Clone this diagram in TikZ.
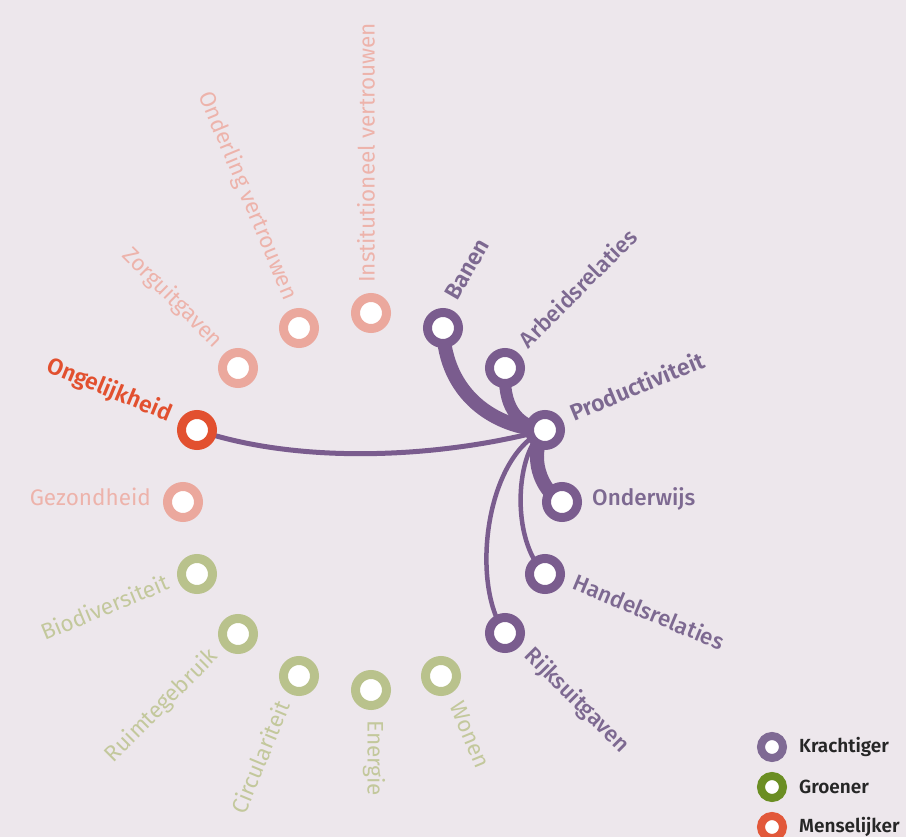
\documentclass[tikz,border=0pt]{standalone}
\usepackage{fontspec}
\setmainfont{Fira Sans}[BoldFont={Fira Sans SemiBold}]
\newfontfamily\medium{Fira Sans Medium}
\usetikzlibrary{calc}
\definecolor{achter}{HTML}{EDE7EC}
\definecolor{paars}{HTML}{7A5C8E}
\definecolor{paarstekst}{HTML}{7D6991}
\definecolor{roze}{HTML}{EBA89D}
\definecolor{rozetekst}{HTML}{EDB3AB}
\definecolor{rood}{HTML}{E2502F}
\definecolor{groen}{HTML}{B9C28C}
\definecolor{groentekst}{HTML}{C3C89C}
\definecolor{legpaars}{HTML}{7F6A94}
\definecolor{leggroen}{HTML}{6B8E23}
\definecolor{legrood}{HTML}{E2583A}
\pgfdeclarelayer{bg}
\pgfdeclarelayer{edges}
\pgfsetlayers{bg,edges,main}
\tikzset{ring/.style={circle, fill=white, draw=#1, line width=9pt, minimum size=31pt, inner sep=0pt},
  legring/.style={circle, fill=white, draw=#1, line width=8pt, minimum size=22pt, inner sep=0pt},
  lbl/.style={font=\fontsize{22.5}{22.5}\selectfont, inner sep=0pt, text height=0.7em, text depth=0pt},
  sterk/.style={font=\fontsize{23}{23}\selectfont\bfseries},
  half/.style={font=\fontsize{22.5}{22.5}\selectfont\medium},
  legtekst/.style={anchor=west, inner sep=0pt, font=\fontsize{19}{19}\selectfont\bfseries, text=black!85},
  tak/.style={draw=paars, line width=#1}}

\begin{document}
\begin{tikzpicture}[x=1pt,y=1pt]
  \begin{pgfonlayer}{bg}
    \fill[achter] (0,0) rectangle (906,-837);
  \end{pgfonlayer}
  \useasboundingbox (0,0) rectangle (906,-837);
  % Krachtiger
  \node[ring=paars] (prod)      at (545,-430) {};
  \node[ring=paars] (banen)     at (443,-328) {};
  \node[ring=paars] (arbeids)   at (505,-368) {};
  \node[ring=paars] (onderwijs) at (562,-502) {};
  \node[ring=paars] (handels)   at (545,-574) {};
  \node[ring=paars] (rijks)     at (505,-633) {};
  % Menselijker
  \node[ring=roze] (instit)     at (371,-313) {};
  \node[ring=roze] (onderling)  at (299,-328) {};
  \node[ring=roze] (zorg)       at (238,-368) {};
  \node[ring=rood] (ongelijk)   at (197,-430) {};
  \node[ring=roze] (gezond)     at (183,-502) {};
  % Groener
  \node[ring=groen] (biodiv)    at (197,-574) {};
  \node[ring=groen] (ruimte)    at (238,-634) {};
  \node[ring=groen] (circ)      at (299,-676) {};
  \node[ring=groen] (energie)   at (371,-690) {};
  \node[ring=groen] (wonen)     at (441,-676) {};

  \node[lbl, sterk, text=paarstekst, rotate=22.5, anchor=west] (tprod) at ($(prod)+(22.5:30)$) {Productiviteit};
  \node[lbl, sterk, text=paarstekst, rotate=60, anchor=west] (tbanen) at ($(banen)+(67.5:30)$) {Banen};
  \node[lbl, half, text=paarstekst, rotate=45, anchor=west] (tarbeids) at ($(arbeids)+(45:30)$) {Arbeidsrelaties};
  \node[lbl, half, text=paarstekst, anchor=west] (tonderwijs) at ($(onderwijs)+(0:30)$) {Onderwijs};
  \node[lbl, half, text=paarstekst, rotate=-22.5, anchor=west] (thandels) at ($(handels)+(-22.5:30)$) {Handelsrelaties};
  \node[lbl, half, text=paarstekst, rotate=-45, anchor=west] (trijks) at ($(rijks)+(-45:30)$) {Rijksuitgaven};
  \node[lbl, text=rozetekst, rotate=90, anchor=west] (tinstit) at ($(instit)+(90:30)$) {Institutioneel vertrouwen};
  \node[lbl, text=rozetekst, rotate=-67.5, anchor=east] (tonderling) at ($(onderling)+(112.5:30)$) {Onderling vertrouwen};
  \node[lbl, text=rozetekst, rotate=-45, anchor=east] (tzorg) at ($(zorg)+(135:30)$) {Zorguitgaven};
  \node[lbl, sterk, text=rood, rotate=-22.5, anchor=east] (tongelijk) at ($(ongelijk)+(157.5:30)$) {Ongelijkheid};
  \node[lbl, text=rozetekst, anchor=east] (tgezond) at ($(gezond)+(180:32)$) {Gezondheid};
  \node[lbl, text=groentekst, rotate=22.5, anchor=east] (tbiodiv) at ($(biodiv)+(202.5:30)$) {Biodiversiteit};
  \node[lbl, text=groentekst, rotate=45, anchor=east] (truimte) at ($(ruimte)+(225:30)$) {Ruimtegebruik};
  \node[lbl, text=groentekst, rotate=67.5, anchor=east] (tcirc) at ($(circ)+(247.5:30)$) {Circulariteit};
  \node[lbl, text=groentekst, rotate=-90, anchor=west] (tenergie) at ($(energie)+(-90:30)$) {Energie};
  \node[lbl, text=groentekst, rotate=-67.5, anchor=west] (twonen) at ($(wonen)+(-67.5:30)$) {Wonen};

  % takken vanuit productiviteit
  \begin{pgfonlayer}{edges}
    \draw[tak=14pt] (banen.center) .. controls (445,-395) and (495,-428) .. (prod.center);
    \draw[tak=12pt] (arbeids.center) .. controls (503,-405) and (515,-425) .. (prod.center);
    \draw[tak=14pt] (prod.center) .. controls (528,-455) and (540,-490) .. (onderwijs.center);
    \draw[tak=4.5pt] (prod.center) .. controls (515,-450) and (510,-540) .. (handels.center);
    \draw[tak=4.5pt] (prod.center) .. controls (485,-455) and (470,-585) .. (rijks.center);
    \draw[tak=5pt] (ongelijk.center) .. controls (300,-465) and (440,-458) .. (prod.center);
  \end{pgfonlayer}

  % legenda
  \node[legring=legpaars] (lkracht) at (772,-747) {};
  \node[legring=leggroen] (lgroen)  at (772,-787) {};
  \node[legring=legrood]  (lmens)   at (772,-827) {};
  \node[legtekst] (tkracht) at (799,-747) {Krachtiger};
  \node[legtekst] (tgroen) at (799,-787) {Groener};
  \node[legtekst] (tmens) at (799,-827) {Menselijker};
\end{tikzpicture}
\end{document}
